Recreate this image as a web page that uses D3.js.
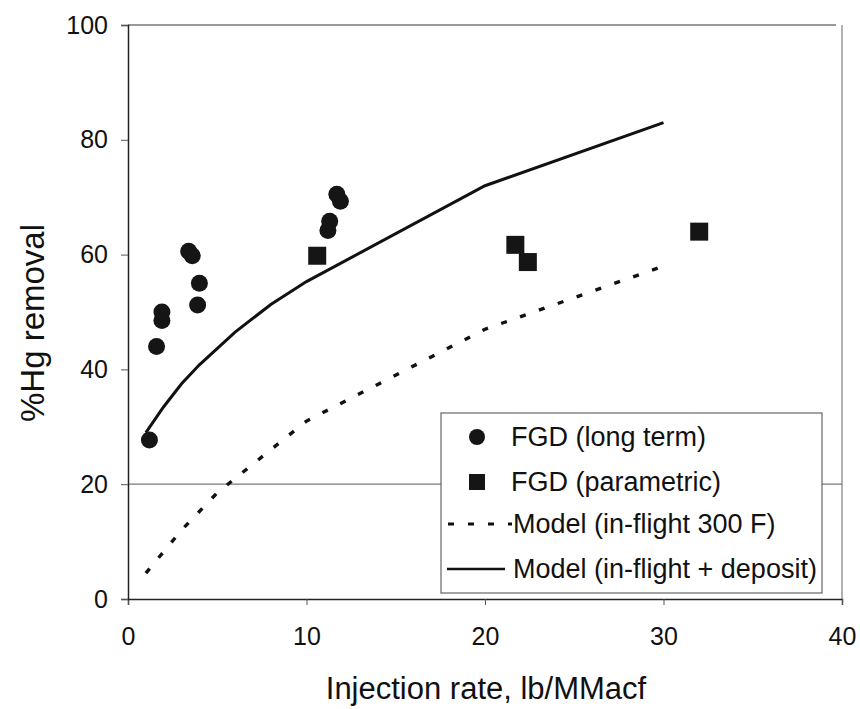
<!DOCTYPE html>
<html><head><meta charset="utf-8">
<script src="https://cdnjs.cloudflare.com/ajax/libs/d3/7.8.5/d3.min.js"></script>
<style>body{margin:0;background:#fff}svg{display:block}text{font-family:"Liberation Sans",Arial,sans-serif;fill:#111}</style>
</head><body><svg id="c" width="860" height="709"></svg>
<script>
const xTicks = [0, 10, 20, 30, 40];
const yTicks = [0, 20, 40, 60, 80, 100];
const longTermX = [1.2, 1.6, 1.9, 1.9, 3.4, 3.6, 4.0, 3.9, 11.2, 11.3, 11.7, 11.9];
const longTermY = [27.7, 44, 50, 48.5, 60.6, 59.8, 55, 51.2, 64.2, 65.8, 70.5, 69.3];
const paramX = [10.6, 21.7, 22.4, 32.0];
const paramY = [59.8, 61.7, 58.7, 64];
const model300X = [1, 3, 5, 10, 20, 30];
const model300Y = [4.5, 12, 18.5, 31, 47, 58];
const modelDepX = [1, 2, 3, 4, 6, 8, 10, 20, 30];
const modelDepY = [29, 33.5, 37.5, 40.8, 46.5, 51.3, 55.3, 72, 83];
const legendLabels = ["FGD (long term)", "FGD (parametric)", "Model (in-flight 300 F)", "Model (in-flight + deposit)"];

const svg = d3.select("#c");
const L = 128, R = 842, T = 25, B = 599;
const x = d3.scaleLinear().domain([0, 40]).range([L, R]);
const y = d3.scaleLinear().domain([0, 100]).range([B, T]);

// frame & gridline
svg.append("line").attr("x1", L).attr("x2", R - 6).attr("y1", y(100)).attr("y2", y(100)).attr("stroke", "#777").attr("stroke-width", 1.5);
svg.append("line").attr("x1", R).attr("x2", R).attr("y1", y(100)).attr("y2", B).attr("stroke", "#999").attr("stroke-width", 1.5);
svg.append("line").attr("x1", L).attr("x2", R).attr("y1", y(20)).attr("y2", y(20)).attr("stroke", "#777").attr("stroke-width", 1.2);

// axes
const xa = svg.append("g").attr("transform", `translate(0,${B})`)
  .call(d3.axisBottom(x).tickValues(xTicks).tickSize(6).tickPadding(22).tickFormat(d3.format("d")));
const ya = svg.append("g").attr("transform", `translate(${L},0)`)
  .call(d3.axisLeft(y).tickValues(yTicks).tickSize(7).tickPadding(13).tickFormat(d3.format("d")));
[xa, ya].forEach(a => {
  a.select(".domain").attr("stroke", "#222").attr("stroke-width", 1.5);
  a.selectAll(".tick line").attr("stroke", "#555");
  a.selectAll("text").attr("font-size", 25).attr("fill", "#111").style("font-family", "Liberation Sans, Arial, sans-serif");
});

svg.append("text").attr("x", 486).attr("y", 699).attr("text-anchor", "middle").attr("font-size", 31).text("Injection rate, lb/MMacf");
svg.append("text").attr("transform", "translate(44,323) rotate(-90)").attr("text-anchor", "middle").attr("font-size", 33).text("%Hg removal");

// lines
const line = d3.line().x(d => x(d[0])).y(d => y(d[1]));
svg.append("path").datum(model300X.map((v, i) => [v, model300Y[i]])).attr("d", line)
  .attr("fill", "none").attr("stroke", "#111").attr("stroke-width", 3.4).attr("stroke-dasharray", "6,14");
svg.append("path").datum(modelDepX.map((v, i) => [v, modelDepY[i]])).attr("d", line)
  .attr("fill", "none").attr("stroke", "#111").attr("stroke-width", 3);

// points
svg.selectAll("circle.lt").data(longTermX.map((v, i) => [v, longTermY[i]])).enter().append("circle")
  .attr("cx", d => x(d[0])).attr("cy", d => y(d[1])).attr("r", 8.5).attr("fill", "#151515");
const sq = 18;
svg.selectAll("rect.pm").data(paramX.map((v, i) => [v, paramY[i]])).enter().append("rect")
  .attr("x", d => x(d[0]) - sq / 2).attr("y", d => y(d[1]) - sq / 2).attr("width", sq).attr("height", sq).attr("fill", "#151515");

// legend
const lg = svg.append("g");
lg.append("rect").attr("x", 441).attr("y", 413).attr("width", 381).attr("height", 180).attr("fill", "#fff").attr("stroke", "#666").attr("stroke-width", 1.2);
const rows = [437, 482, 524, 569];
lg.append("circle").attr("cx", 477).attr("cy", rows[0]).attr("r", 8).attr("fill", "#151515");
lg.append("rect").attr("x", 469).attr("y", rows[1] - 8).attr("width", 16).attr("height", 16).attr("fill", "#151515");
lg.append("line").attr("x1", 448).attr("x2", 512).attr("y1", rows[2]).attr("y2", rows[2]).attr("stroke", "#111").attr("stroke-width", 3).attr("stroke-dasharray", "6,14");
lg.append("line").attr("x1", 447).attr("x2", 505).attr("y1", rows[3]).attr("y2", rows[3]).attr("stroke", "#111").attr("stroke-width", 2.6);
legendLabels.forEach((t, i) => {
  lg.append("text").attr("x", i < 2 ? 511 : 513).attr("y", rows[i]).attr("dy", "0.35em").attr("font-size", 27).text(t);
});
</script></body></html>
